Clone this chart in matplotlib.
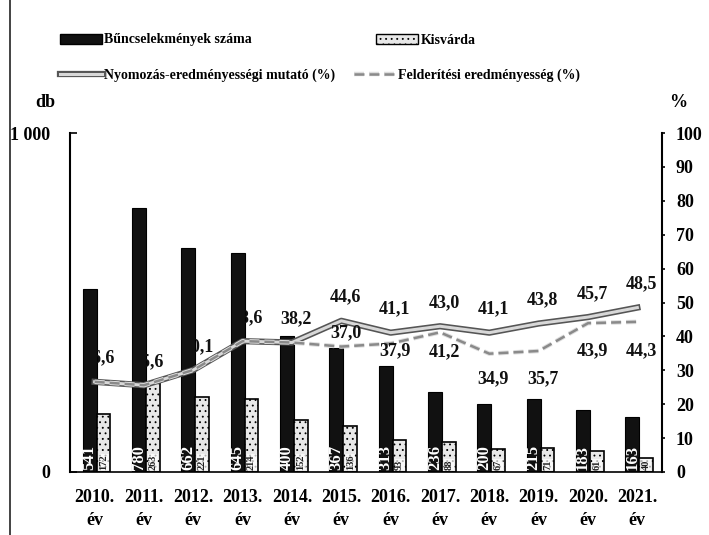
import matplotlib
matplotlib.use("Agg")
import matplotlib.pyplot as plt
import matplotlib.patheffects as pe
from matplotlib.lines import Line2D
from matplotlib.patches import Patch
import numpy as np

plt.rcParams['font.family'] = ['Liberation Serif', 'DejaVu Serif']
plt.rcParams['font.weight'] = 'bold'

years = ["2010.", "2011.", "2012.", "2013.", "2014.", "2015.", "2016.", "2017.", "2018.", "2019.", "2020.", "2021."]
crimes = [541, 780, 662, 645, 400, 367, 313, 236, 200, 215, 183, 163]
kisvarda = [172, 263, 221, 214, 152, 136, 93, 88, 67, 71, 61, 40]
nyomozas = [26.6, 25.6, 30.1, 38.6, 38.2, 44.6, 41.1, 43.0, 41.1, 43.8, 45.7, 48.5]
felderitesi = [26.6, 25.6, 30.1, 38.6, 38.2, 37.0, 37.9, 41.2, 34.9, 35.7, 43.9, 44.3]
felderitesi_show = [False, False, False, False, False, True, True, True, True, True, True, True]

# label offsets (style, in points)
nyom_dy = 17
feld_dy = [0, 0, 0, 0, 0, 10, -5, -14, -18, -20, -20, -21]

fig = plt.figure(figsize=(7.09, 5.35), dpi=100)
ax = fig.add_axes([70/709, 1-472/535, (662-70)/709, (472-133)/535])
ax2 = ax.twinx()

x = np.arange(len(years))
ax.set_xlim(-0.5, len(years)-0.5)
ax.set_ylim(0, 1000)
ax2.set_ylim(0, 100)

plt.rcParams['hatch.linewidth'] = 0.6
b1 = ax.bar(x-0.10, crimes, width=0.28, color='#111111', edgecolor='#000000', linewidth=0.8, zorder=2)
b2 = ax.bar(x+0.18, kisvarda, width=0.28, color='#e8e8e8', edgecolor='#000000', linewidth=1.2, hatch='...', zorder=2)

for xi, v in zip(x, crimes):
    ax.text(xi-0.10, 6, str(v), rotation=90, ha='center', va='bottom', color='white',
            fontsize=12, fontweight='bold', zorder=3)
for xi, v in zip(x, kisvarda):
    ax.text(xi+0.18, 6, str(v), rotation=90, ha='center', va='bottom', color='#222222',
            fontsize=7.5, fontweight='bold', zorder=3,
            bbox=dict(boxstyle='square,pad=0.05', fc='white', ec='none', alpha=0.7))

l1, = ax2.plot(x, nyomozas, color='#d8d8d8', linewidth=2.2, zorder=4,
               path_effects=[pe.Stroke(linewidth=4.5, foreground='#555555'), pe.Normal()])
l2, = ax2.plot(x, felderitesi, color='#8a8a8a', linewidth=1.8, linestyle=(0, (4, 2)), zorder=4,
               path_effects=[pe.Stroke(linewidth=3.2, foreground='#dddddd'), pe.Normal()])

for xi, v in zip(x, nyomozas):
    ax2.annotate(f"{v:.1f}".replace('.', ','), (xi, v), xytext=(3, nyom_dy), textcoords='offset points',
                 ha='center', va='center', fontsize=13, fontweight='bold', color='#111111', zorder=5)
for xi, v, s, dy in zip(x, felderitesi, felderitesi_show, feld_dy):
    if s:
        ax2.annotate(f"{v:.1f}".replace('.', ','), (xi, v), xytext=(3, dy), textcoords='offset points',
                     ha='center', va='center', fontsize=13, fontweight='bold', color='#111111', zorder=5)

# axes styling
ax.set_xticks(x)
ax.set_xticklabels([f"{y}\név" for y in years], fontsize=13, fontweight='bold', linespacing=1.45)
ax.tick_params(axis='x', length=0, pad=12)
ax.set_yticks([0, 1000])
ax.set_yticklabels(["0", "1 000"], fontsize=13, fontweight='bold')
ax.tick_params(axis='y', direction='in', length=5, width=1.2, pad=14)
ax2.set_yticks(np.arange(0, 101, 10))
ax2.set_yticklabels([str(v) for v in range(0, 101, 10)], fontsize=13, fontweight='bold')
ax2.tick_params(axis='y', direction='out', length=2, width=1.2, pad=8)

for a in (ax, ax2):
    a.spines['top'].set_visible(False)
ax.spines['right'].set_visible(False)
ax2.spines['left'].set_visible(False)
ax2.spines['bottom'].set_visible(False)
ax.spines['left'].set_linewidth(1.5)
ax2.spines['right'].set_linewidth(1.5)
ax.spines['bottom'].set_linewidth(1.2)
ax.spines['bottom'].set_linestyle((0, (6, 1)))

fig.text(45/709, 1-102/535, "db", fontsize=13, fontweight='bold', ha='center', va='center')
fig.text(678/709, 1-102/535, "%", fontsize=13, fontweight='bold', ha='center', va='center')

# legend (four single-entry legends placed like the reference)
leg_kw = dict(frameon=False, handlelength=3.0, handletextpad=0.2, borderpad=0, borderaxespad=0,
              prop={'family': 'Liberation Serif', 'weight': 'bold', 'size': 10})
h_bar1 = Patch(facecolor='#111111', edgecolor='#000000')
h_bar2 = Patch(facecolor='#e8e8e8', edgecolor='#000000', hatch='...')
fig.legend([h_bar1], ["Bűncselekmények száma"], loc='center left', bbox_to_anchor=(60/709, 1-40/535), **leg_kw)
fig.legend([h_bar2], ["Kisvárda"], loc='center left', bbox_to_anchor=(376/709, 1-40/535), **leg_kw)
fig.legend([l1], ["Nyomozás-eredményességi mutató (%)"], loc='center left', bbox_to_anchor=(60/709, 1-75/535), **leg_kw)
fig.legend([l2], ["Felderítési eredményesség (%)"], loc='center left', bbox_to_anchor=(354/709, 1-75/535), **leg_kw)

# scanned page border on the left
fig.add_artist(Line2D([10/709, 10/709], [0, 1], transform=fig.transFigure, color='#222222', linewidth=1.2))

fig.savefig("out.png", dpi=100)
